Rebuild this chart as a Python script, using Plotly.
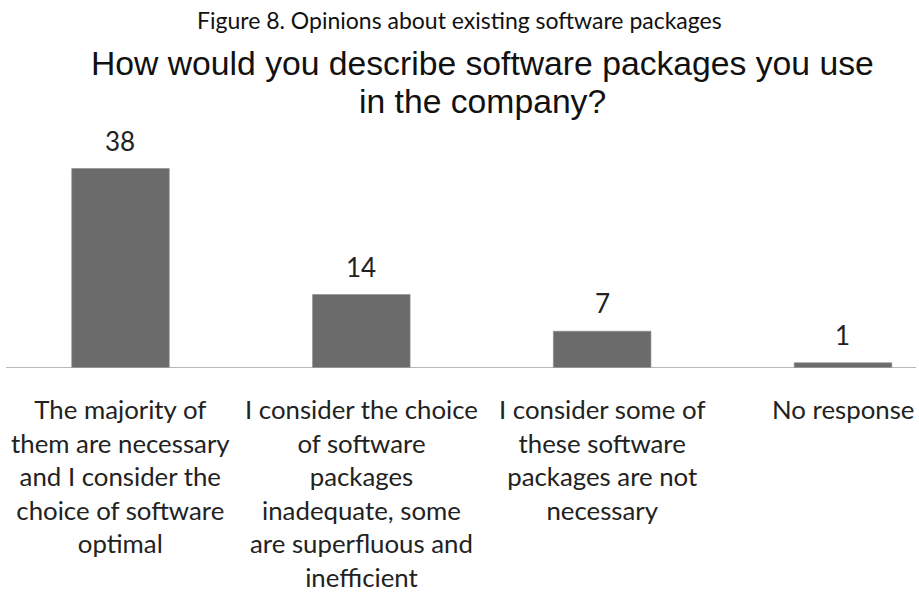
import plotly.graph_objects as go

# Survey answers and counts
categories = [
    "The majority of<br>them are necessary<br>and I consider the<br>choice of software<br>optimal",
    "I consider the choice<br>of software<br>packages<br>inadequate, some<br>are superfluous and<br>inefficient",
    "I consider some of<br>these software<br>packages are not<br>necessary",
    "No response",
]
counts = [38, 14, 7, 1]

caption = "Figure 8. Opinions about existing software packages"
title_lines = ["How would you describe software packages you use", "in the company?"]

W, H = 919, 596
PLOT_BOTTOM = 368  # pixel row of the category axis


def py(px):
    """Convert a pixel row to paper coordinates of the plot area."""
    return (PLOT_BOTTOM - px) / PLOT_BOTTOM


fig = go.Figure(
    go.Bar(
        x=categories,
        y=counts,
        width=0.405,
        marker=dict(color="#6b6b6b", line=dict(color="#8a8a8a", width=0.6)),
        hoverinfo="skip",
    )
)

annotations = []
# value labels above bars
for c, v in zip(categories, counts):
    annotations.append(dict(
        x=c, y=v, xref="x", yref="y", text=str(v), showarrow=False,
        yanchor="bottom", yshift=10,
        font=dict(family="Lato", size=26, color="#222222"),
    ))
# category labels under the axis
for c in categories:
    annotations.append(dict(
        x=c, y=py(393), xref="x", yref="paper", text=c, showarrow=False,
        yanchor="top", align="center", borderpad=0,
        font=dict(family="Lato", size=25.8, color="#222222"),
    ))
# caption and chart title
annotations.append(dict(
    x=459.5 / W, y=py(36), xref="paper", yref="paper", text=caption,
    showarrow=False, yanchor="bottom",
    font=dict(family="Lato", size=23, color="#111111"),
))
for i, line in enumerate(title_lines):
    annotations.append(dict(
        x=482 / W, y=py(84 + 38 * i), xref="paper", yref="paper", text=line,
        showarrow=False, yanchor="bottom",
        font=dict(family="Liberation Sans", size=33.7, color="#111111"),
    ))

fig.update_layout(
    width=W, height=H,
    margin=dict(l=0, r=0, t=0, b=H - PLOT_BOTTOM, pad=0),
    paper_bgcolor="white", plot_bgcolor="white",
    showlegend=False,
    xaxis=dict(type="category", range=[-0.5003, 3.3156], showticklabels=False,
               showgrid=False, zeroline=False, showline=False, ticks=""),
    yaxis=dict(range=[0, PLOT_BOTTOM / 5.25], visible=False, fixedrange=True),
    annotations=annotations,
    shapes=[dict(type="line", xref="paper", yref="y", x0=6 / W, x1=916 / W,
                 y0=0, y1=0, line=dict(color="#a0a0a0", width=1.6))],
)

fig.write_html("out.html")
